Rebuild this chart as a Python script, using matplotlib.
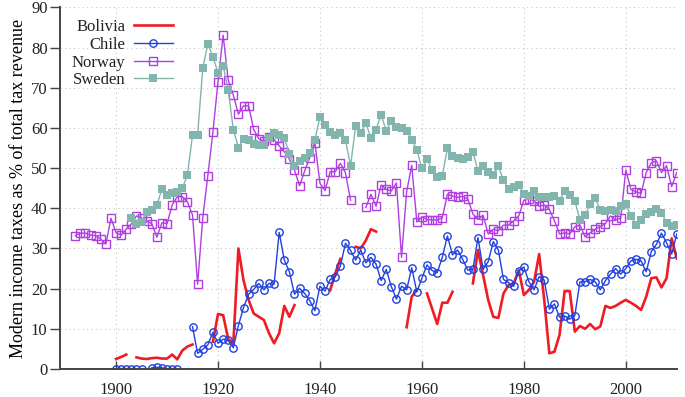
import numpy as np
import matplotlib
matplotlib.use("Agg")
import matplotlib.pyplot as plt

nan = np.nan

bolivia_start = 1900
bolivia = [2.5, 3.0, 3.6, nan, 2.9, 2.6, 2.5, 2.7, 2.8, 2.6,
           2.6, 3.6, 2.4, 4.6, 5.6, 6.1, nan, nan, nan, 6.8,
           13.7, 13.4, 7.5, 6.3, 30.0, 22.1, 17.2, 13.8, 13.0, 12.2,
           8.9, 6.4, 8.9, 15.7, 13.0, 15.9, nan, nan, nan, nan,
           nan, nan, 19.6, 23.8, 27.4, nan, nan, 30.4, 30.0, 32.0,
           34.8, 34.2, nan, nan, nan, nan, nan, 10.4, 18.0, 19.7,
           nan, 18.8, 15.0, 11.2, 16.5, 16.5, 19.2, nan, nan, nan,
           21.3, 29.6, 23.4, 17.2, 13.0, 12.7, 18.8, 20.9, 21.3, 24.6,
           18.4, 19.7, 21.7, 28.6, 17.2, 3.9, 4.3, 8.5, 19.4, 19.4,
           9.3, 10.7, 10.0, 11.2, 9.9, 10.6, 15.7, 15.2, 15.7, 16.5,
           17.2, 16.5, 15.7, 14.7, 18.0, 22.6, 22.8, 20.3, 22.6, 32.5,
           27.5]

chile_start = 1900
chile = [0, 0, 0, 0, 0, 0, nan, 0.3, 0.4, 0.3,
         0, 0, 0, nan, nan, 10.5, 3.9, 4.9, 6.0, 9.1,
         6.4, 7.4, 7.1, 5.3, 10.8, 15.3, 18.6, 19.8, 21.3, 19.7,
         21.3, 21.1, 34.0, 27.1, 24.2, 18.6, 20.1, 18.8, 17.0, 14.5,
         20.6, 19.4, 22.3, 22.9, 25.6, 31.3, 29.5, 27.1, 29.6, 26.4,
         27.8, 26.1, 22.0, 24.8, 20.5, 17.4, 20.6, 19.7, 25.2, 19.2,
         22.6, 25.9, 24.5, 24.0, 27.8, 33.1, 28.4, 29.6, 27.3, 24.6,
         24.8, 32.7, 24.8, 26.7, 31.7, 29.6, 22.3, 21.5, 20.6, 24.4,
         25.4, 21.7, 19.7, 23.0, 22.1, 14.9, 16.2, 12.9, 13.2, 12.4,
         13.3, 21.7, 21.7, 22.3, 21.7, 19.7, 22.0, 23.6, 25.0, 23.6,
         25.0, 26.9, 27.3, 26.9, 24.2, 29.2, 31.0, 33.8, 31.4, 28.6,
         33.6]

norway_start = 1892
norway = [33.2, 33.8, 33.8, 33.3, 33.2, 32.3, 31.1, 37.5,
          33.9, 33.3, 34.8, 36.1, 38.1, 37.6, 36.8, 36.2, 32.8, 36.4,
          36.2, 40.8, 42.9, 42.9, 41.6, 38.3, 21.1, 37.6, 48.1, 59.0,
          71.5, 83.1, 71.9, 68.2, 63.4, 65.5, 65.5, 59.6, 57.3, 56.7,
          57.8, 57.1, 55.5, 54.1, 52.2, 49.5, 45.6, 49.3, 52.6, 56.3,
          46.2, 44.4, 49.1, 49.1, 51.2, 48.8, 42.0, nan, nan, 40.2,
          43.5, 40.5, 45.8, 44.7, 44.3, 46.3, 27.8, 44.1, 50.7, 36.6,
          37.9, 37.2, 37.1, 37.1, 37.6, 43.5, 43.0, 42.7, 43.0, 42.3,
          38.6, 37.2, 38.3, 33.6, 34.8, 34.4, 35.8, 35.8, 36.9, 38.1,
          42.0, 42.3, 41.9, 40.5, 40.8, 39.7, 36.9, 33.6, 33.9, 33.6,
          35.4, 35.8, 32.9, 33.9, 34.8, 35.4, 36.2, 38.1, 37.1, 37.5,
          49.5, 44.7, 44.1, 43.7, 48.9, 51.3, 51.8, 48.9, 50.6, 45.4,
          48.9]

sweden_start = 1903
sweden = [37.5, 36.0, 36.6, 39.1, 39.5, 40.8, 44.8,
          43.3, 43.7, 44.0, 45.0, 48.3, 58.3, 58.3, 74.8, 81.0, 77.7,
          73.7, 75.5, 69.5, 59.6, 55.1, 57.3, 57.0, 56.1, 55.7, 55.7,
          57.4, 58.8, 58.2, 57.6, 53.5, 50.4, 51.8, 52.4, 53.8, 57.0,
          62.8, 60.7, 58.9, 58.2, 58.8, 57.0, 50.5, 60.5, 58.8, 61.1,
          57.5, 59.6, 63.2, 59.3, 61.8, 60.3, 59.9, 59.3, 57.1, 54.6,
          49.9, 52.2, 49.5, 47.8, 48.1, 54.9, 53.0, 52.4, 52.2, 52.7,
          54.1, 49.3, 50.5, 49.1, 48.4, 50.5, 47.0, 44.7, 45.4, 45.8,
          43.5, 43.0, 44.4, 42.7, 42.7, 42.7, 43.1, 41.9, 44.4, 43.3,
          41.9, 37.1, 38.3, 41.0, 42.5, 39.6, 39.4, 39.6, 39.4, 40.5,
          41.0, 38.1, 35.8, 37.2, 38.5, 39.1, 39.8, 38.9, 36.4, 35.6,
          35.8]

x_ticks = [1900, 1920, 1940, 1960, 1980, 2000]
y_ticks = [0, 10, 20, 30, 40, 50, 60, 70, 80, 90]


def years(start, values):
    return np.arange(start, start + len(values))


def main():
    plt.rcParams['font.family'] = ['Liberation Serif', 'DejaVu Serif']
    plt.rcParams['text.color'] = '#222222'
    plt.rcParams['xtick.labelcolor'] = '#222222'
    plt.rcParams['ytick.labelcolor'] = '#222222'
    fig = plt.figure(figsize=(6.85, 3.97), dpi=100)
    ax = fig.add_axes([0.0876, 0.0705, 0.9004, 0.911])

    ax.plot(years(bolivia_start, bolivia), bolivia, color='#f01c24',
            lw=1.9, label='Bolivia')
    ax.plot(years(chile_start, chile), chile, color='#2040e0', lw=1.0,
            marker='o', ms=5.3, mfc='none', mew=1.0, label='Chile')
    ax.plot(years(norway_start, norway), norway, color='#b03ee0', lw=1.0,
            marker='s', ms=5.6, mfc='none', mew=1.0, label='Norway')
    ax.plot(years(sweden_start, sweden), sweden, color='#82b5ad', lw=1.0,
            marker='s', ms=5.6, mew=0, label='Sweden')

    ax.set_xlim(1889, 2010)
    ax.set_ylim(0, 90)
    ax.set_xticks(x_ticks)
    ax.set_yticks(y_ticks)
    ax.grid(True, color='#c8c8c8', lw=0.8, linestyle=(0, (1, 3)))
    ax.set_axisbelow(True)

    for s in ['top', 'right']:
        ax.spines[s].set_visible(False)
    for s in ['left', 'bottom']:
        ax.spines[s].set_color('#444444')
        ax.spines[s].set_linewidth(1.4)
    ax.tick_params(axis='y', direction='out', length=7, width=1.0,
                   color='#444444', labelsize=12, pad=2)
    ax.tick_params(axis='x', direction='in', length=6, width=1.0,
                   color='#444444', labelsize=12, pad=9)

    ax.set_ylabel('Modern income taxes as % of total tax revenue',
                  fontsize=13, labelpad=3)

    ax.legend(loc='upper left', bbox_to_anchor=(0.005, 0.99),
              frameon=False, markerfirst=False, fontsize=12,
              handlelength=2.3, handletextpad=0.55, labelspacing=0.1,
              borderpad=0)

    fig.savefig('out.png', dpi=100)


if __name__ == "__main__":
    main()
